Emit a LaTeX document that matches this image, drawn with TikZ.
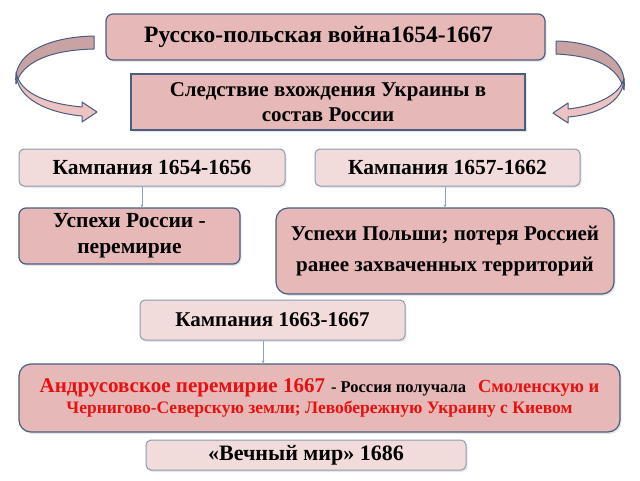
\documentclass[tikz,border=0pt]{standalone}
\usepackage{fontspec}
\setmainfont{Liberation Serif}
\usetikzlibrary{shadows,arrows.meta}
\definecolor{pinkD}{HTML}{E6B9B8}
\definecolor{pinkL}{HTML}{F2DCDB}
\definecolor{edgeD}{HTML}{4A5E80}
\definecolor{edgeL}{HTML}{8E99B0}
\definecolor{connC}{HTML}{8FA3C0}
\definecolor{ribB}{HTML}{C9A3A3}
\definecolor{ribF}{HTML}{EDC2C2}
\definecolor{redT}{HTML}{E81010}
\tikzset{
  boxD/.style={draw=edgeD, line width=1.2pt, fill=pinkD, rounded corners=7pt, align=center, inner sep=0pt,
     font=\bfseries, drop shadow={opacity=0.18, shadow xshift=1.5pt, shadow yshift=-2pt}},
  boxS/.style={boxD, rounded corners=0pt},
  boxL/.style={draw=edgeL, line width=1pt, fill=pinkL, rounded corners=5pt, align=center, inner sep=0pt,
     font=\bfseries, drop shadow={opacity=0.18, shadow xshift=1.5pt, shadow yshift=-2pt}},
  conn/.style={draw=connC, line width=0.7pt, -{Stealth[length=3pt,width=3pt]}},
  ribback/.style={fill=ribB, draw=edgeD, line width=1pt, line join=round},
  ribfront/.style={fill=ribF, draw=edgeD, line width=1pt, line join=round},
}
\begin{document}
\begin{tikzpicture}[x=1pt,y=-1pt]
\useasboundingbox (0,0) rectangle (640,480);
\fill[white] (0,0) rectangle (640,480);

% curved arrows
\draw[ribback] (94,36) .. controls (45,37) and (12,55) .. (16,84) .. controls (22,62) and (50,50) .. (94,49) -- cycle;
\draw[ribfront] (16,72) .. controls (16,100) and (50,113) .. (82,116) -- (82,122) -- (97,112) -- (82,102) -- (82,107) .. controls (50,104) and (20,95) .. (16,72) -- cycle;

\draw[ribback] (556,41) .. controls (600,42) and (628,60) .. (624,90) .. controls (618,66) and (595,56) .. (556,54) -- cycle;
\draw[ribfront] (624,78) .. controls (624,103) and (595,115) .. (568,117) -- (568,123) -- (553,113) -- (568,103) -- (568,109) .. controls (595,106) and (620,96) .. (624,78) -- cycle;

\node[boxD, minimum width=439, minimum height=46, font=\bfseries\fontsize{23.5}{26}\selectfont] (b1) at (325.5,37) {Русско-польская война1654-1667\hspace*{14pt}};
\node[boxS, minimum width=394, minimum height=56, font=\bfseries\fontsize{21}{25}\selectfont] (b2) at (328,102) {Следствие вхождения Украины в\\состав России};
\node[boxL, minimum width=266, minimum height=37, font=\bfseries\fontsize{21.5}{24}\selectfont] (b3) at (152,167.5) {Кампания 1654-1656};
\node[boxL, minimum width=265, minimum height=37, font=\bfseries\fontsize{21.5}{24}\selectfont] (b4) at (447.5,167.5) {Кампания 1657-1662};
\node[boxD, minimum width=221, minimum height=56, font=\bfseries\fontsize{21.5}{26}\selectfont] (b5) at (129.5,236) {Успехи России -\\перемирие};
\node[boxD, rounded corners=12pt, minimum width=338, minimum height=86, font=\bfseries\fontsize{21}{30}\selectfont] (b6) at (445,251) {Успехи Польши; потеря Россией\\ранее захваченных территорий};
\node[boxL, minimum width=265, minimum height=40, font=\bfseries\fontsize{21}{24}\selectfont] (b7) at (272.5,320) {Кампания 1663-1667};
\node[boxD, rounded corners=12pt, minimum width=601, minimum height=68] (b8) at (319.5,398)
  {{\color{redT}\fontsize{21}{24}\selectfont Андрусовское перемирие 1667\hspace{6pt}}{\fontsize{16.5}{18}\selectfont - Россия получала\hspace{12pt}}{\color{redT}\fontsize{18.5}{18}\selectfont Смоленскую и}\\[3pt]
   {\color{redT}\fontsize{17.5}{19}\selectfont Чернигово-Северскую земли; Левобережную Украину с Киевом}};
\node[boxL, minimum width=320, minimum height=30, font=\bfseries\fontsize{22}{24}\selectfont] (b9) at (306,455) {«Вечный мир» 1686};

\draw[conn] ([xshift=-10pt]b3.south) -- ([xshift=-10pt]b3.south |- b5.north);
\draw[conn] ([xshift=-2.5pt]b4.south) -- ([xshift=-2.5pt]b4.south |- b6.north);
\draw[conn] ([xshift=-9.5pt]b7.south) -- ([xshift=-9.5pt]b7.south |- b8.north);
\end{tikzpicture}
\end{document}
